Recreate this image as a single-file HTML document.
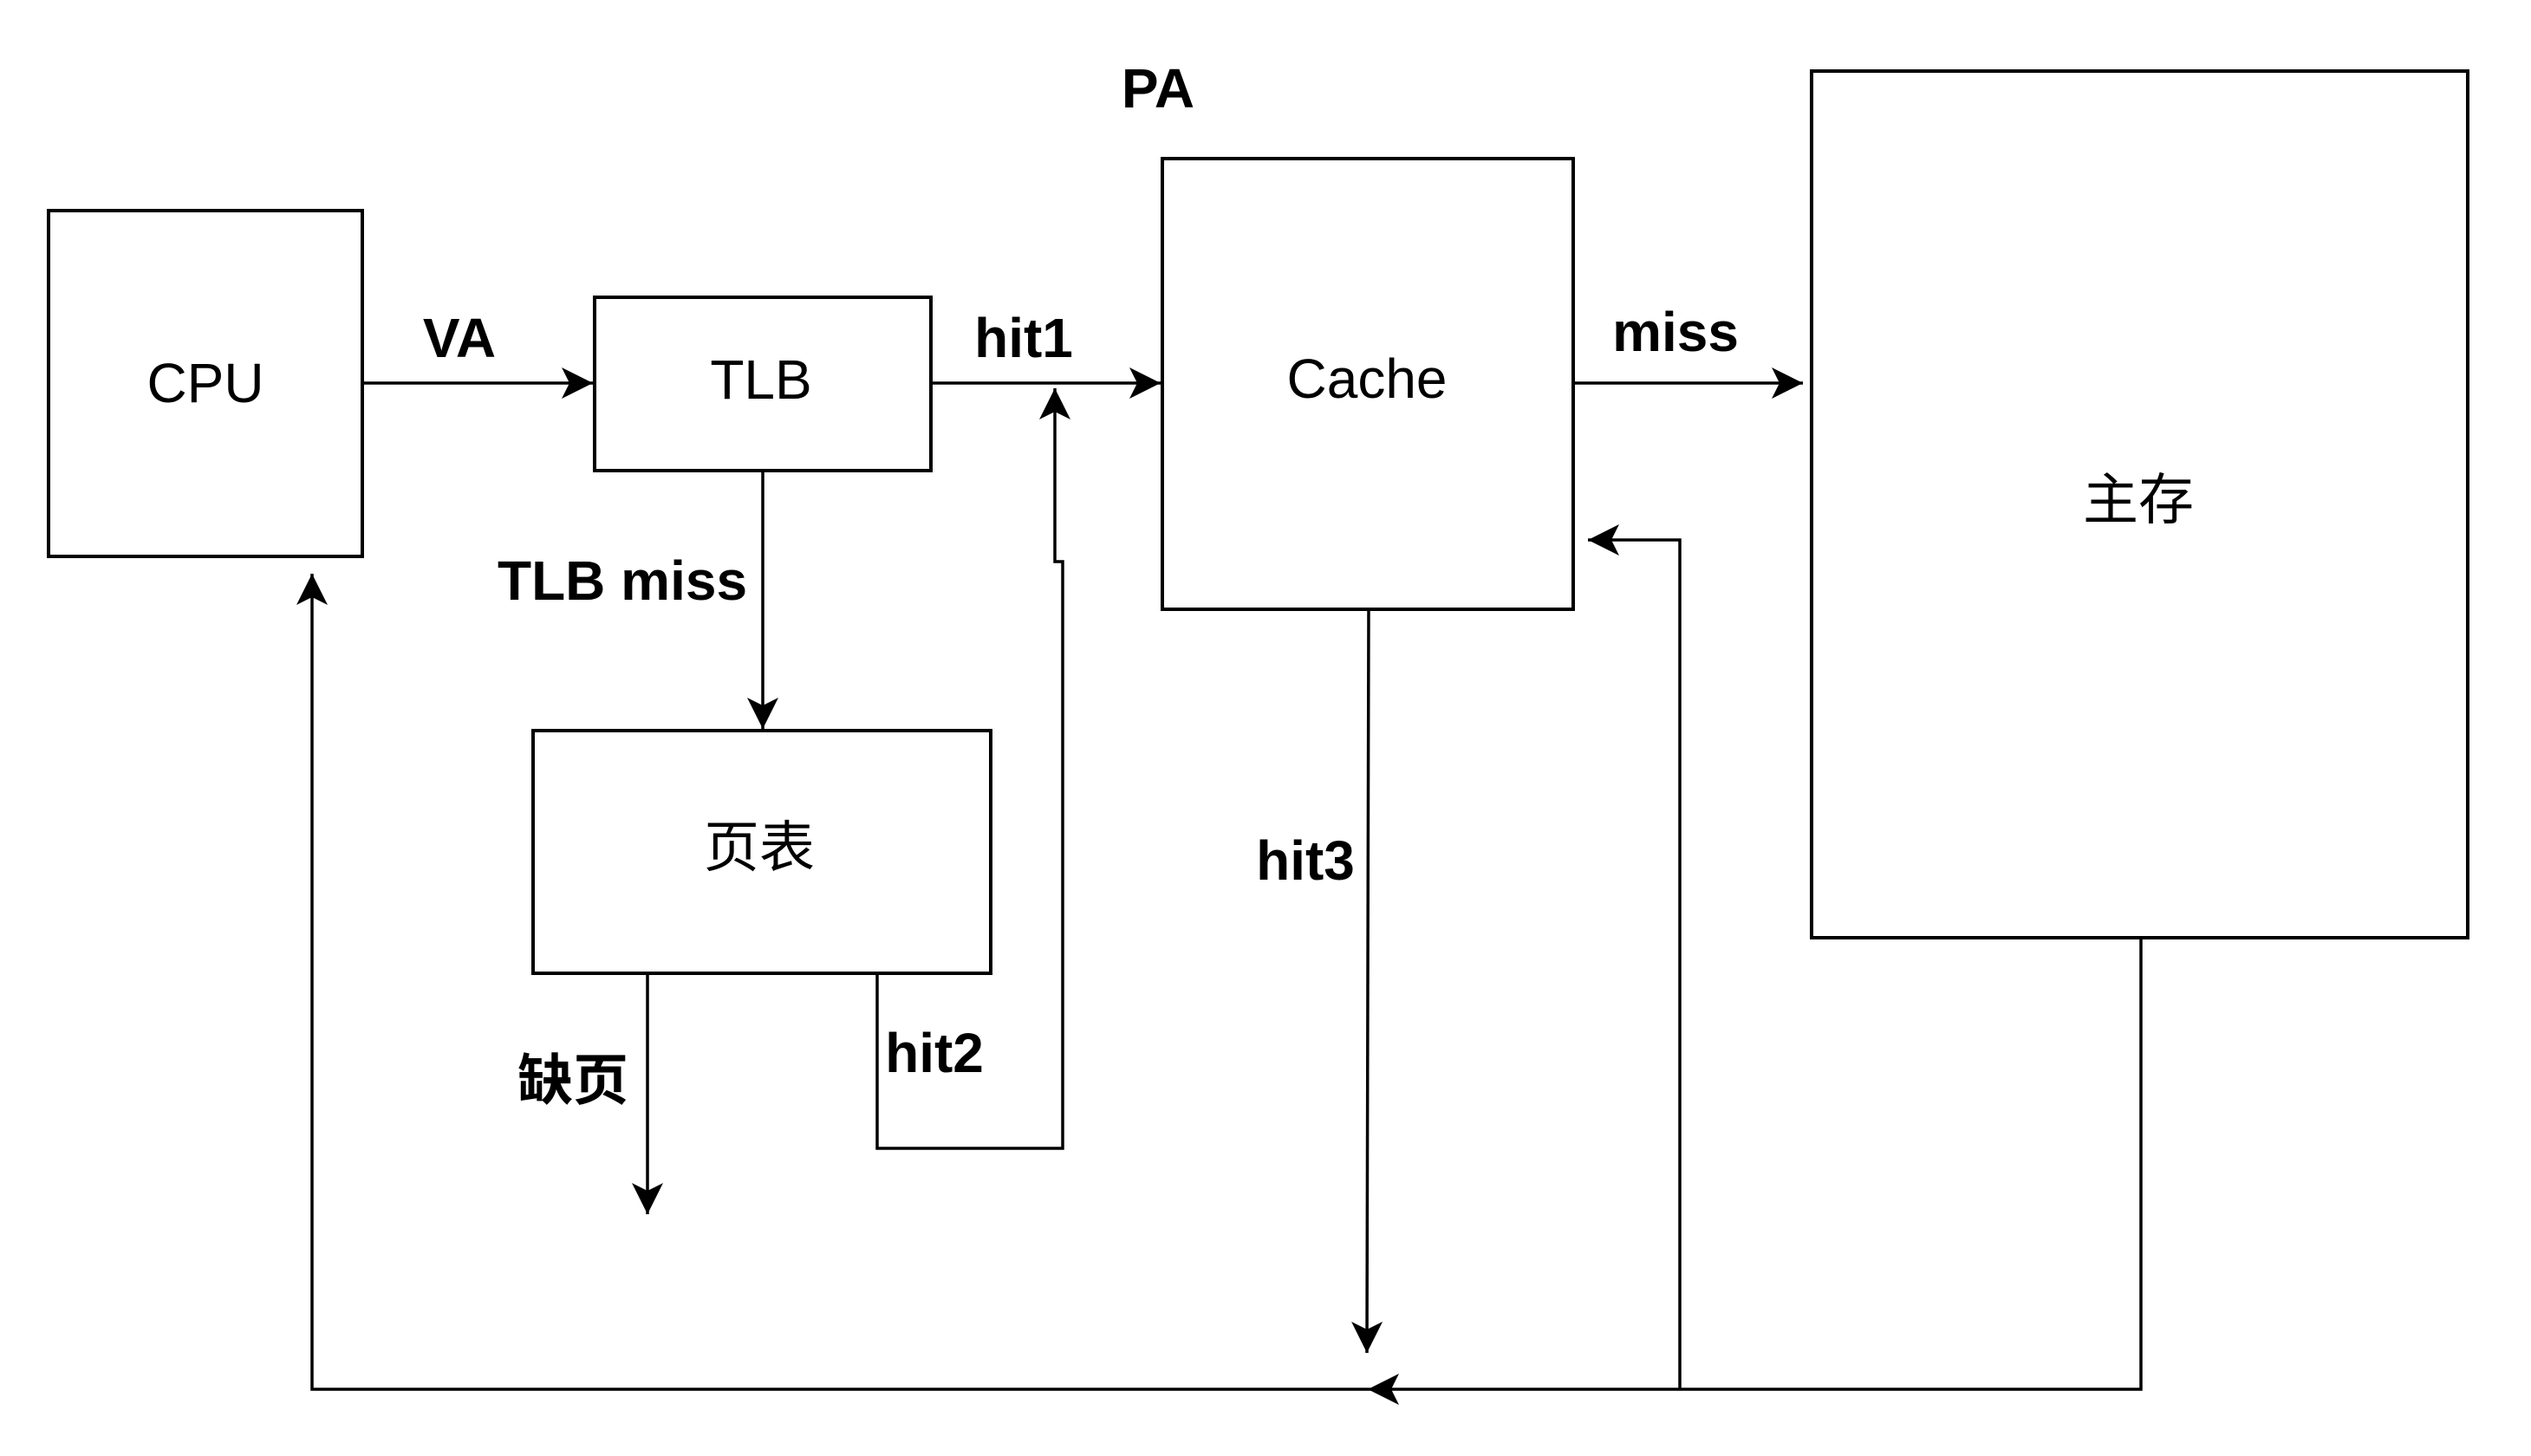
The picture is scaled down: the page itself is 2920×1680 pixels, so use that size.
<!DOCTYPE html>
<html><head><meta charset="utf-8"><style>
html,body{margin:0;padding:0;background:#fff;}
svg{display:block;}
text{font-family:"Liberation Sans","Noto Sans CJK SC",sans-serif;fill:#000;}
.b{font-weight:bold;font-size:64px;}
.n{font-size:64px;}
</style></head><body>
<svg width="2920" height="1680" viewBox="0 0 2920 1680" xmlns="http://www.w3.org/2000/svg">
<defs>
<marker id="a" markerUnits="userSpaceOnUse" markerWidth="44" markerHeight="44" refX="40" refY="20" orient="auto">
<path d="M40,20 L4,2 L13,20 L4,38 Z" fill="#000"/>
</marker>
</defs>
<g fill="none" stroke="#000" stroke-width="4">
<rect x="56" y="243" width="362" height="399"/>
<rect x="686" y="343" width="388" height="200"/>
<rect x="1341" y="183" width="474" height="520"/>
<rect x="2090" y="82" width="757" height="1000"/>
<rect x="615" y="843" width="528" height="280"/>
</g>
<g fill="none" stroke="#000" stroke-width="3.5">
<path d="M418,442 H684" marker-end="url(#a)"/>
<path d="M1074,442 H1339" marker-end="url(#a)"/>
<path d="M1815,442 H2080" marker-end="url(#a)"/>
<path d="M880,543 V841" marker-end="url(#a)"/>
<path d="M1012,1123 V1325 H1226 V648 H1217 V448" marker-end="url(#a)"/>
<path d="M747,1123 V1401" marker-end="url(#a)"/>
<path d="M1579,703 L1577,1561" marker-end="url(#a)"/>
<path d="M2470,1082 V1603 H1578" marker-end="url(#a)"/>
<path d="M1938,1603 V623 H1832" marker-end="url(#a)"/>
<path d="M1578,1603 H360 V662" marker-end="url(#a)"/>
</g>
<g text-anchor="middle" dominant-baseline="central">
<text class="n" x="237" y="442">CPU</text>
<text class="n" x="878" y="438">TLB</text>
<text class="n" x="1577" y="437">Cache</text>
<text class="n" x="876" y="978">页表</text>
<text class="n" x="2467" y="577">主存</text>
<text class="b" x="1336" y="102">PA</text>
<text class="b" x="530" y="390">VA</text>
<text class="b" x="1181" y="390">hit1</text>
<text class="b" x="1933" y="383">miss</text>
<text class="b" x="718" y="670">TLB miss</text>
<text class="b" x="1506" y="993">hit3</text>
<text class="b" x="1078" y="1215">hit2</text>
<text class="b" x="661" y="1247">缺页</text>
</g>
</svg>
</body></html>
